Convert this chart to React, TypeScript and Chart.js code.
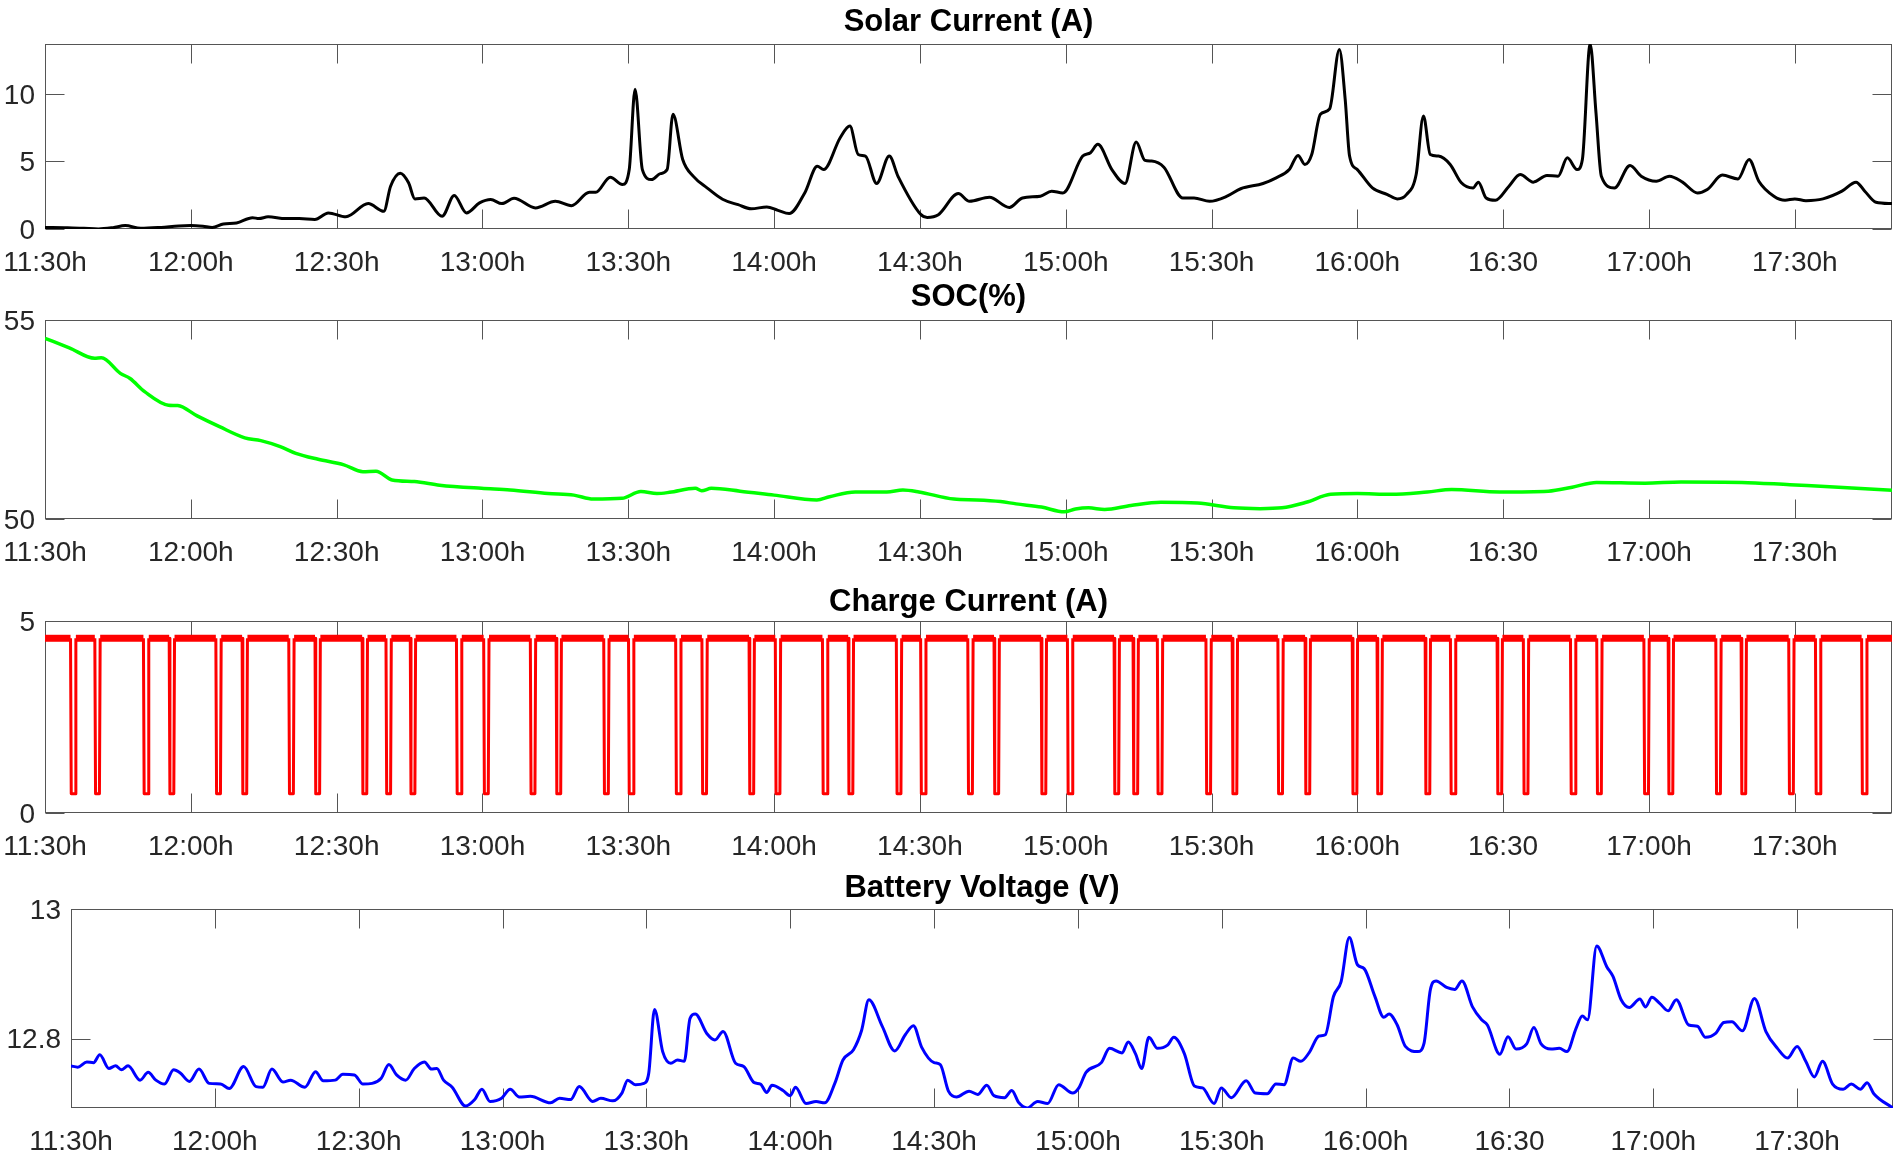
import React, { useEffect, useRef } from "react";
import { Chart, registerables } from "chart.js";

Chart.register(...registerables);

// ---------------- DATA ----------------
// x values are minutes after 11:30
const xTickLabels = ["11:30h", "12:00h", "12:30h", "13:00h", "13:30h", "14:00h", "14:30h", "15:00h", "15:30h", "16:00h", "16:30", "17:00h", "17:30h"];

const solarTimes = [0, 4.6, 8, 11, 14, 16.5, 19.7, 23.9, 27.5, 30, 32.5, 34.4, 36.7, 39.4, 42.7, 44, 45.9, 49.5, 52.3, 55.5, 58.3, 61.9, 66.5, 69.7, 71.1, 73.1, 74.8, 76.1, 78, 81.7, 84.2, 86.7, 89.4, 91.7, 94, 96.5, 100.9, 105, 108.3, 112, 113.3, 116.3, 118.8, 120.2, 121.4, 122.9, 124.8, 126.6, 128, 129.2, 131.2, 133.4, 136.2, 139.4, 142.6, 145.3, 148.5, 150.8, 153.1, 156.3, 158.9, 160.2, 163.6, 165.6, 167.3, 168.8, 171.1, 173.7, 175.5, 180.1, 181.5, 183.8, 187.9, 190.2, 194.3, 198.4, 201.1, 204.8, 207.1, 209.4, 213.5, 215.1, 216.6, 219.5, 222.2, 224.5, 226.3, 227.7, 230.2, 234.1, 236.4, 239.6, 243.2, 246, 250.6, 253.3, 256, 257.8, 259.2, 260.6, 262.4, 264.3, 266.3, 267.5, 268.4, 270, 273.1, 276.2, 278.2, 280.1, 282.1, 283.6, 285, 286.7, 289.1, 291.4, 293.8, 294.9, 296.5, 298.4, 301.2, 303.5, 306.2, 309, 311.3, 313.2, 315.2, 316.3, 317.9, 319.1, 320.2, 322.9, 326.1, 328.4, 331.5, 334.2, 336.9, 340, 342, 345.1, 348.3, 350.6, 352.6, 355.7, 358, 360, 362.3, 365.8, 369.7, 372.6, 374.4, 376.7, 380];
const solarAmps = [0.12, 0.1, 0.05, 0.0, 0.1, 0.25, 0.05, 0.12, 0.22, 0.25, 0.2, 0.12, 0.37, 0.45, 0.84, 0.77, 0.9, 0.77, 0.77, 0.7, 1.19, 0.9, 1.88, 1.31, 3.17, 4.13, 3.42, 2.23, 2.3, 0.94, 2.48, 1.19, 1.93, 2.18, 1.88, 2.28, 1.56, 2.05, 1.73, 2.72, 2.72, 3.84, 3.29, 4.4, 10.35, 4.4, 3.66, 4.1, 4.4, 8.5, 5.15, 3.9, 3.05, 2.2, 1.8, 1.5, 1.63, 1.38, 1.14, 2.67, 4.65, 4.4, 6.76, 7.62, 5.52, 5.4, 3.37, 5.4, 3.9, 1.11, 0.86, 1.06, 2.62, 2.05, 2.35, 1.6, 2.3, 2.43, 2.8, 2.67, 5.4, 5.65, 6.27, 4.4, 3.37, 6.44, 5.08, 5.03, 4.58, 2.3, 2.3, 2.05, 2.43, 2.98, 3.37, 3.79, 4.4, 5.45, 4.78, 5.5, 8.5, 8.9, 13.3, 9.6, 5.4, 4.4, 3.04, 2.55, 2.23, 2.55, 4.03, 8.37, 5.52, 5.4, 4.78, 3.42, 3.04, 3.47, 2.3, 2.13, 3.17, 4.03, 3.47, 3.96, 3.91, 5.27, 4.4, 5.15, 13.7, 8.6, 3.91, 3.04, 4.7, 3.91, 3.54, 3.91, 3.47, 2.67, 2.92, 3.99, 3.71, 5.15, 3.54, 2.43, 2.13, 2.23, 2.1, 2.23, 2.8, 3.47, 2.8, 1.98, 1.88];

const socTimes = [0, 5, 10.2, 11.6, 15.5, 17.5, 20.5, 25.4, 27.3, 31.3, 35.9, 41.1, 44.4, 48.4, 51.6, 56.2, 61.5, 65.4, 68.1, 71.4, 76, 81.2, 89.8, 95.7, 103.5, 108.8, 112.8, 118.7, 122.6, 125.9, 128.5, 133.8, 135.1, 137.1, 143, 150, 158.8, 161.4, 166.7, 173.2, 176.5, 179.8, 187, 191.7, 196.6, 199.8, 205, 209.7, 212, 214.7, 218, 223.4, 229.6, 237.1, 244.6, 250, 254.5, 259.5, 264.5, 270, 276.9, 284.4, 289.4, 299.3, 309.3, 314.2, 319.2, 329.2, 336.6, 349.1, 359, 369, 380];
const socPercent = [54.54, 54.3, 54.04, 54.05, 53.66, 53.53, 53.2, 52.86, 52.85, 52.59, 52.32, 52.04, 51.97, 51.82, 51.65, 51.5, 51.36, 51.19, 51.2, 50.98, 50.94, 50.85, 50.77, 50.73, 50.64, 50.6, 50.5, 50.52, 50.69, 50.64, 50.67, 50.77, 50.71, 50.77, 50.7, 50.6, 50.48, 50.56, 50.68, 50.68, 50.73, 50.68, 50.5, 50.48, 50.44, 50.38, 50.3, 50.18, 50.25, 50.28, 50.24, 50.34, 50.42, 50.4, 50.28, 50.26, 50.28, 50.42, 50.62, 50.64, 50.62, 50.68, 50.74, 50.68, 50.7, 50.8, 50.92, 50.9, 50.93, 50.92, 50.86, 50.8, 50.72];

const chargeDipTimes = [5.8, 10.8, 20.8, 26.1, 35.7, 41.1, 50.7, 56.1, 65.8, 70.7, 75.7, 85.2, 90.8, 100.4, 105.7, 115.5, 120.6, 130.3, 135.7, 145.4, 150.8, 160.5, 165.8, 175.7, 180.7, 190.4, 195.8, 205.5, 210.9, 220.5, 224.4, 229.4, 239.4, 244.8, 254.2, 259.8, 269.5, 274.6, 284.5, 289.7, 299.3, 304.7, 314.4, 319.8, 329.5, 334.5, 344.3, 349.5, 359.3, 364.8, 374.3];
const chargeHighAmps = 4.55;
const chargeLowAmps = 0.5;

const voltTimes = [0, 1.4, 3.3, 4.7, 6, 7.9, 9.3, 10.5, 11.9, 14.4, 16.1, 17.7, 19.5, 21.4, 22.8, 24.7, 26.7, 28.8, 31.2, 33, 36, 38.6, 40, 41.9, 44.2, 45.8, 48.8, 51, 52.6, 55.1, 56.7, 59.1, 60.9, 62.8, 64.7, 66.3, 67.9, 69.8, 71.6, 73.7, 75.2, 76.3, 77.7, 79.5, 82.3, 84.2, 85.7, 87.4, 89.8, 91.6, 93.5, 95.8, 100, 101.9, 104.2, 106, 108.8, 110.5, 113, 114.9, 116.1, 117.7, 119.5, 120.5, 121.7, 123.4, 125.1, 126.5, 127.9, 129.1, 130.2, 132.6, 134.3, 136, 138.6, 140.3, 142.5, 143.8, 145.1, 146.2, 148.5, 150, 151.1, 153.3, 155.4, 157.2, 159.3, 161, 163.2, 164.9, 166.4, 169.2, 171.8, 174, 175.7, 177.4, 180, 181.3, 183, 184.7, 187.3, 189.1, 191, 192.5, 194.7, 196.2, 197.7, 199.4, 201.6, 203.7, 206, 208.9, 210.2, 211.7, 214.9, 216.6, 219.2, 220.5, 222, 223.3, 224.8, 226.6, 228.7, 230, 232.2, 234.3, 236, 238.4, 239.9, 242, 245.1, 247, 249.5, 251.3, 253, 254.9, 256.5, 258.2, 260.3, 261.6, 263.3, 264.9, 266.6, 268.3, 269.7, 271.9, 273.8, 274.9, 276.6, 278.3, 280.9, 282.2, 283.5, 284.7, 286.9, 288.6, 290.1, 292.3, 294.2, 295.4, 298, 299.7, 301.4, 303.6, 305.1, 306.6, 308.7, 310.4, 312, 313.9, 315.2, 316.3, 318.2, 320.3, 321.6, 323.3, 325, 327.2, 328.4, 329.7, 331.4, 333.1, 334.8, 337.4, 339.2, 340.9, 343, 344.7, 346.4, 348.6, 351.1, 353.5, 355.9, 358, 360, 361.8, 363.6, 365.3, 367.4, 369.6, 371.3, 373.2, 374.6, 376, 380];
const voltValues = [12.758, 12.756, 12.764, 12.763, 12.775, 12.754, 12.758, 12.752, 12.758, 12.736, 12.748, 12.736, 12.73, 12.752, 12.747, 12.734, 12.753, 12.731, 12.73, 12.723, 12.757, 12.726, 12.725, 12.753, 12.733, 12.736, 12.725, 12.749, 12.735, 12.736, 12.745, 12.744, 12.73, 12.731, 12.739, 12.76, 12.744, 12.736, 12.754, 12.764, 12.753, 12.754, 12.736, 12.725, 12.696, 12.706, 12.722, 12.703, 12.708, 12.722, 12.71, 12.711, 12.701, 12.708, 12.706, 12.726, 12.703, 12.708, 12.704, 12.716, 12.736, 12.729, 12.731, 12.747, 12.845, 12.78, 12.762, 12.767, 12.765, 12.831, 12.838, 12.808, 12.798, 12.811, 12.762, 12.757, 12.732, 12.73, 12.717, 12.728, 12.72, 12.712, 12.725, 12.7, 12.703, 12.701, 12.731, 12.767, 12.783, 12.813, 12.86, 12.819, 12.781, 12.806, 12.82, 12.787, 12.763, 12.76, 12.719, 12.71, 12.719, 12.714, 12.728, 12.712, 12.709, 12.72, 12.701, 12.693, 12.703, 12.7, 12.729, 12.716, 12.724, 12.748, 12.763, 12.785, 12.778, 12.795, 12.777, 12.754, 12.802, 12.785, 12.79, 12.802, 12.777, 12.727, 12.724, 12.7, 12.724, 12.709, 12.735, 12.716, 12.715, 12.73, 12.729, 12.77, 12.765, 12.778, 12.804, 12.806, 12.865, 12.888, 12.956, 12.914, 12.908, 12.866, 12.833, 12.838, 12.821, 12.788, 12.78, 12.793, 12.875, 12.889, 12.879, 12.876, 12.889, 12.849, 12.829, 12.821, 12.776, 12.803, 12.784, 12.792, 12.817, 12.792, 12.784, 12.785, 12.78, 12.816, 12.835, 12.829, 12.943, 12.911, 12.896, 12.86, 12.848, 12.861, 12.849, 12.864, 12.854, 12.843, 12.86, 12.821, 12.819, 12.802, 12.808, 12.825, 12.826, 12.812, 12.862, 12.811, 12.785, 12.77, 12.788, 12.765, 12.741, 12.765, 12.73, 12.722, 12.73, 12.722, 12.732, 12.715, 12.693];

// ---------------- STYLE / LAYOUT ----------------
const FONT = '"Liberation Sans", Arial, Helvetica, sans-serif';
const TICK_COLOR = "#262626";
const TICK_SIZE = 28;
const TOP_PAD = 44;
const X_AXIS_H = 55;

function pairs(xs: number[], ys: number[]) {
  return xs.map((x, i) => ({ x, y: ys[i] }));
}

function chargeSeries() {
  const pts: { x: number; y: number }[] = [{ x: 0, y: chargeHighAmps }];
  chargeDipTimes.forEach((t) => {
    pts.push({ x: t - 0.55, y: chargeHighAmps });
    pts.push({ x: t - 0.4, y: chargeLowAmps });
    pts.push({ x: t + 0.4, y: chargeLowAmps });
    pts.push({ x: t + 0.55, y: chargeHighAmps });
  });
  pts.push({ x: 380, y: chargeHighAmps });
  return pts;
}

const boxPlugin = {
  id: "matlabBox",
  beforeDatasetsDraw(chart: any) {
    const { ctx, chartArea: a, scales } = chart;
    ctx.save();
    ctx.strokeStyle = "#555555";
    ctx.lineWidth = 1;
    const L = Math.round(a.left) + 0.5;
    const R = Math.round(a.right) - 0.5;
    const T = Math.round(a.top) + 0.5;
    const B = Math.round(a.bottom) - 0.5;
    ctx.strokeRect(L, T, R - L, B - T);
    const tl = 19;
    ctx.beginPath();
    scales.x.ticks.forEach((t: any) => {
      const px = Math.round(scales.x.getPixelForValue(t.value)) + 0.5;
      ctx.moveTo(px, B);
      ctx.lineTo(px, B - tl);
      ctx.moveTo(px, T);
      ctx.lineTo(px, T + tl);
    });
    scales.y.ticks.forEach((t: any) => {
      const py = Math.round(scales.y.getPixelForValue(t.value)) + 0.5;
      ctx.moveTo(L, py);
      ctx.lineTo(L + tl, py);
      ctx.moveTo(R, py);
      ctx.lineTo(R - tl, py);
    });
    ctx.stroke();
    ctx.restore();
  },
  afterDraw(chart: any, _args: any, opts: any) {
    const { ctx, chartArea: a } = chart;
    ctx.save();
    ctx.font = `bold 31px ${FONT}`;
    ctx.fillStyle = "#000";
    ctx.textAlign = "center";
    ctx.textBaseline = "alphabetic";
    ctx.fillText(opts.title, (a.left + a.right) / 2, a.top - opts.gap);
    ctx.restore();
  },
};

type PanelSpec = {
  title: string;
  gap: number;
  plotTop: number;
  plotBottom: number;
  plotLeft: number;
  plotRight: number;
  yMin: number;
  yMax: number;
  yStep: number;
  dataset: any;
};

function Panel({ spec }: { spec: PanelSpec }) {
  const ref = useRef<HTMLCanvasElement | null>(null);
  const height = TOP_PAD + (spec.plotBottom - spec.plotTop) + X_AXIS_H;
  useEffect(() => {
    if (!ref.current) return;
    const chart = new Chart(ref.current, {
      type: "line",
      data: { datasets: [spec.dataset] },
      options: {
        responsive: false,
        animation: false,
        events: [],
        layout: { padding: { top: TOP_PAD, left: 0, right: 1896 - spec.plotRight, bottom: 0 } },
        plugins: {
          legend: { display: false },
          tooltip: { enabled: false },
          title: { display: false },
          matlabBox: { title: spec.title, gap: spec.gap },
        } as any,
        scales: {
          x: {
            type: "linear",
            min: 0,
            max: 380,
            position: "bottom",
            afterFit: (s: any) => {
              s.height = X_AXIS_H;
              s.paddingLeft = 0;
              s.paddingRight = 0;
            },
            grid: { display: false, drawTicks: false, tickLength: 0 },
            border: { display: false },
            ticks: {
              stepSize: 30,
              includeBounds: false,
              autoSkip: false,
              maxRotation: 0,
              minRotation: 0,
              padding: 17,
              color: TICK_COLOR,
              font: { family: FONT, size: TICK_SIZE },
              callback: (v: any) => xTickLabels[Math.round(Number(v) / 30)] ?? "",
            },
          },
          y: {
            type: "linear",
            min: spec.yMin,
            max: spec.yMax,
            afterFit: (s: any) => {
              s.width = spec.plotLeft;
              s.paddingTop = 0;
              s.paddingBottom = 0;
            },
            grid: { display: false, drawTicks: false, tickLength: 0 },
            border: { display: false },
            ticks: {
              stepSize: spec.yStep,
              includeBounds: false,
              padding: 10,
              labelOffset: 2,
              color: TICK_COLOR,
              font: { family: FONT, size: TICK_SIZE },
              callback: (v: any) => String(Number(Number(v).toFixed(2))),
            },
          },
        },
      } as any,
      plugins: [boxPlugin as any],
    });
    return () => chart.destroy();
  }, []);
  return (
    <canvas
      ref={ref}
      width={1896}
      height={height}
      style={{ position: "absolute", left: 0, top: spec.plotTop - TOP_PAD, width: 1896, height }}
    />
  );
}

const baseLine = { pointRadius: 0, fill: false, borderJoinStyle: "round" as const };

const panels: PanelSpec[] = [
  {
    title: "Solar Current (A)",
    gap: 13,
    plotTop: 44,
    plotBottom: 229,
    plotLeft: 45,
    plotRight: 1892,
    yMin: 0,
    yMax: 13.7,
    yStep: 5,
    dataset: { ...baseLine, data: pairs(solarTimes, solarAmps), borderColor: "#000000", borderWidth: 3, cubicInterpolationMode: "monotone" },
  },
  {
    title: "SOC(%)",
    gap: 14,
    plotTop: 320,
    plotBottom: 519,
    plotLeft: 45,
    plotRight: 1892,
    yMin: 50,
    yMax: 55,
    yStep: 5,
    dataset: { ...baseLine, data: pairs(socTimes, socPercent), borderColor: "#00ff00", borderWidth: 3.5, cubicInterpolationMode: "monotone" },
  },
  {
    title: "Charge Current (A)",
    gap: 10.5,
    plotTop: 621,
    plotBottom: 813,
    plotLeft: 45,
    plotRight: 1892,
    yMin: 0,
    yMax: 5,
    yStep: 5,
    dataset: {
      ...baseLine,
      data: chargeSeries(),
      borderColor: "#ff0000",
      borderWidth: 3,
      tension: 0,
      segment: {
        borderWidth: (c: any) => (c.p0.parsed.y > 3 && c.p1.parsed.y > 3 ? 7 : 3),
      },
    },
  },
  {
    title: "Battery Voltage (V)",
    gap: 12,
    plotTop: 909,
    plotBottom: 1108,
    plotLeft: 71,
    plotRight: 1893,
    yMin: 12.693,
    yMax: 13,
    yStep: 0.2,
    dataset: { ...baseLine, data: pairs(voltTimes, voltValues), borderColor: "#0000ff", borderWidth: 3, cubicInterpolationMode: "monotone" },
  },
];

export default function App() {
  return (
    <div style={{ position: "absolute", left: 0, top: 0, width: 1896, height: 1168, background: "#ffffff", overflow: "hidden" }}>
      {panels.map((p, i) => (
        <Panel key={i} spec={p} />
      ))}
    </div>
  );
}
